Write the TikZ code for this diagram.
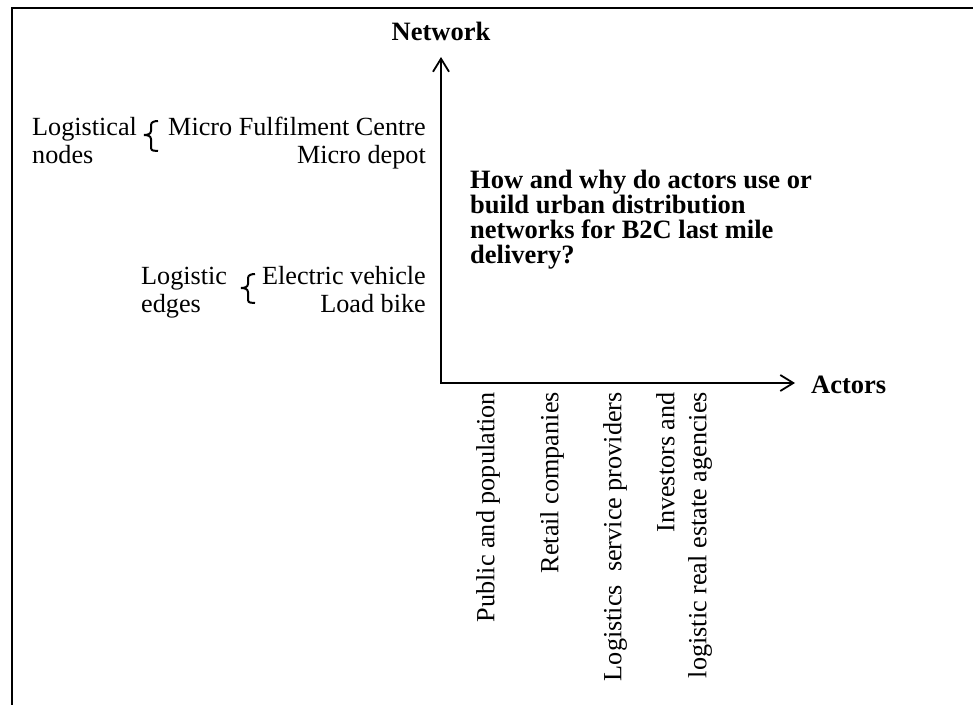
\documentclass[tikz,border=0pt]{standalone}
\usepackage{fontspec}
\setmainfont{Liberation Serif}
\usetikzlibrary{arrows.meta}
\begin{document}
\begin{tikzpicture}[x=1pt,y=-1pt,
  txt/.style={inner sep=0pt,font=\fontsize{26.2}{28}\selectfont},
  btxt/.style={inner sep=0pt,font=\fontsize{26.5}{25}\selectfont\bfseries},
  axis/.style={line width=2pt,-{Straight Barb[length=13pt,width=16pt,line width=1.8pt]}},
  frame/.style={line width=2.2pt},
  brace/.style={line width=2pt}]
\useasboundingbox (0,0) rectangle (973,704);
% frame
\draw[frame] (975,8) -- (12,8) -- (12,706);
% axes
\coordinate (O) at (441,383);
\coordinate (Ytip) at (441,57);
\coordinate (Xtip) at (795,383);
\draw[axis] (O) -- (Ytip);
\draw[axis] ([xshift=-1pt]O) -- (Xtip);
\node[btxt,anchor=base] (net) at (441,40) {Network};
\node[btxt,anchor=base west] (act) at (811,393) {Actors};
% question (base = baseline of last line)
\node[btxt,anchor=base west,align=left] (q) at (470,263)
  {How and why do actors use or\\build urban distribution\\networks for B2C last mile\\delivery?};
% logistical nodes
\node[txt,anchor=base west,align=left] (ln) at (32,163) {Logistical\\nodes};
\node[txt,anchor=base east,align=right] (mfc) at (426,163) {Micro Fulfilment Centre\\Micro depot};
\draw[brace] (158,121) to[out=180,in=90] (151,125) -- (151,131) to[out=270,in=0] (144,135)
  to[out=0,in=90] (151,139) -- (151,148) to[out=270,in=180] (158,151);
% logistic edges
\node[txt,anchor=base west,align=left] (le) at (141,312) {Logistic\\edges};
\node[txt,anchor=base east,align=right] (ev) at (426,312) {Electric vehicle\\Load bike};
\draw[brace] (255,274) to[out=180,in=90] (248,278) -- (248,284) to[out=270,in=0] (241,288)
  to[out=0,in=90] (248,292) -- (248,300) to[out=270,in=180] (255,303);
% actors
\node[txt,rotate=90,anchor=east] (a1) at (488,392) {Public and population};
\node[txt,rotate=90,anchor=east] (a2) at (552,392) {Retail companies};
\node[txt,rotate=90,anchor=east] (a3) at (615,392) {Logistics\ \ service providers};
\node[txt,rotate=90,anchor=east,align=right,font=\fontsize{26.2}{32}\selectfont] (a4) at (684,392)
  {Investors and\\logistic real estate agencies};
\end{tikzpicture}
\end{document}
